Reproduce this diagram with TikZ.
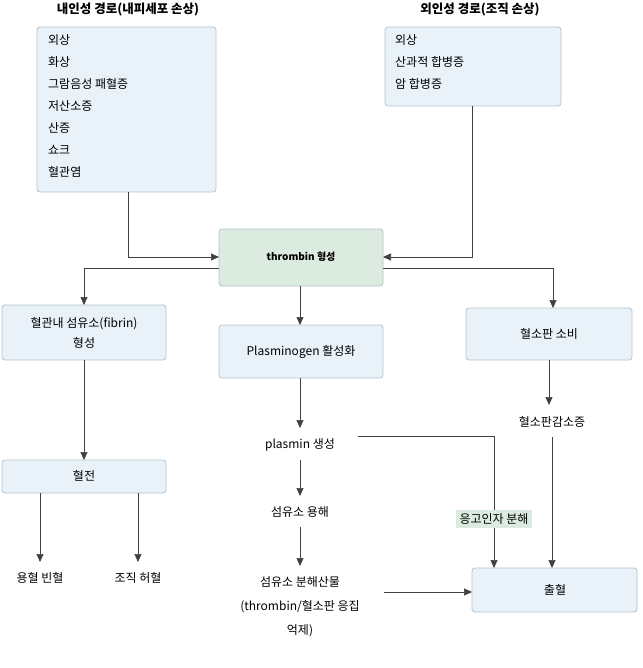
\documentclass[tikz,border=0pt]{standalone}
\usepackage{fontspec}
\setmainfont{Noto Sans CJK KR}
\usetikzlibrary{arrows.meta}
\definecolor{bfill}{HTML}{E8F2F8}
\definecolor{bdraw}{HTML}{B4C4CC}
\definecolor{gfill}{HTML}{DCEBDF}
\begin{document}
\begin{tikzpicture}[x=1pt,y=-1pt,font=\fontsize{12}{22}\selectfont,
 box/.style={draw=bdraw,fill=bfill,rounded corners=3pt,line width=0.8pt},
 ln/.style={draw=black!75,line width=0.7pt},
 ar/.style={ln,-{Triangle[length=8pt,width=7pt]}},
 lab/.style={align=center,inner sep=1pt}]
\useasboundingbox (0,0) rectangle (642,668);
% boxes
\draw[box] (37,27) rectangle (216,192);
\node[anchor=north west,align=left,inner sep=0pt] (lt) at (48,34) {외상\\화상\\그람음성 패혈증\\저산소증\\산증\\쇼크\\혈관염};
\node[font=\fontsize{12.5}{14}\selectfont\bfseries] (ltitle) at (128,10) {내인성 경로(내피세포 손상)};
\draw[box] (385,27) rectangle (561,106);
\node[anchor=north west,align=left,inner sep=0pt] (rt) at (395,34) {외상\\산과적 합병증\\암 합병증};
\node[font=\fontsize{12.5}{14}\selectfont\bfseries] (rtitle) at (480,10) {외인성 경로(조직 손상)};
\draw[box,fill=gfill] (219,229) rectangle (383,286);
\node[font=\bfseries] (th) at (301,257) {thrombin 형성};
\draw[box] (2,305) rectangle (166,360);
\node[lab,font=\fontsize{12}{20}\selectfont] (fib) at (84,333) {혈관내 섬유소(fibrin)\\형성};
\draw[box] (219,325) rectangle (383,378);
\node (plg) at (301,352) {Plasminogen 활성화};
\draw[box] (466,308) rectangle (632,360);
\node (plt) at (549,334) {혈소판 소비};
\draw[box] (2,460) rectangle (166,493);
\node (thr) at (84,476) {혈전};
\draw[box] (472,568) rectangle (637,612);
\node (bl) at (555,590) {출혈};
% plain texts
\node (hem) at (40,578) {용혈 빈혈};
\node (isc) at (138,578) {조직 허혈};
\node (pls) at (300,445) {plasmin 생성};
\node (lys) at (300,512) {섬유소 용해};
\node[lab,font=\fontsize{12}{24}\selectfont] (fdp) at (300,607) {섬유소 분해산물\\(thrombin/혈소판 응집\\억제)};
\node (tcp) at (552,422) {혈소판감소증};
% connectors
\draw[ar] (128,192) |- (219,257);
\draw[ar] (472,106) |- (383,257);
\draw[ar] (219,268) -| (84,305);
\draw[ar] (383,268) -| (553,308);
\draw[ar] (300,286) -- (300,325);
\draw[ar] (84,360) -- (84,460);
\draw[ar] (40,493) -- (40,562);
\draw[ar] (138,493) -- (138,562);
\draw[ar] (300,378) -- (300,428);
\draw[ar] (300,460) -- (300,496);
\draw[ar] (300,527) -- (300,566);
\draw[ar] (358,436) -| (494,568);
\node[fill=gfill,inner sep=4pt] (fac) at (494,519) {응고인자 분해};
\draw[ar] (549,360) -- (549,405);
\draw[ar] (552,437) -- (552,568);
\draw[ar] (384,592) -- (472,592);
\end{tikzpicture}
\end{document}
